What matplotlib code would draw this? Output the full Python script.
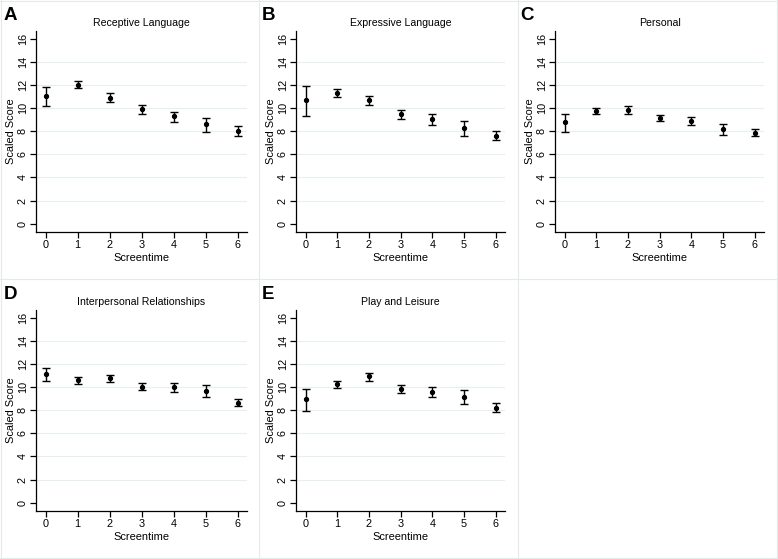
import numpy as np
import matplotlib
matplotlib.use("Agg")
import matplotlib.pyplot as plt
from matplotlib.lines import Line2D

plt.rcParams['font.family'] = ['Liberation Sans', 'DejaVu Sans']

screentime = [0, 1, 2, 3, 4, 5, 6]

titles = ["Receptive Language", "Expressive Language", "Personal",
          "Interpersonal Relationships", "Play and Leisure"]
letters = ["A", "B", "C", "D", "E"]

# means, lower CI, upper CI
receptive_mean = [11.04, 12.0, 10.9, 9.9, 9.28, 8.59, 8.04]
receptive_lo = [10.15, 11.7, 10.55, 9.48, 8.82, 7.95, 7.58]
receptive_hi = [11.8, 12.3, 11.27, 10.26, 9.68, 9.16, 8.47]

expressive_mean = [10.66, 11.3, 10.72, 9.45, 9.02, 8.27, 7.61]
expressive_lo = [9.31, 10.95, 10.26, 9.02, 8.56, 7.61, 7.2]
expressive_hi = [11.93, 11.61, 11.07, 9.8, 9.45, 8.9, 7.98]

personal_mean = [8.76, 9.74, 9.86, 9.16, 8.9, 8.18, 7.87]
personal_lo = [7.95, 9.45, 9.51, 8.88, 8.53, 7.64, 7.55]
personal_hi = [9.48, 10.03, 10.14, 9.42, 9.25, 8.62, 8.16]

interpersonal_mean = [11.1, 10.59, 10.79, 10.04, 10.01, 9.67, 8.63]
interpersonal_lo = [10.53, 10.3, 10.45, 9.76, 9.58, 9.12, 8.35]
interpersonal_hi = [11.65, 10.88, 11.08, 10.36, 10.36, 10.16, 8.95]

play_mean = [8.95, 10.27, 10.91, 9.87, 9.58, 9.15, 8.2]
play_lo = [7.97, 9.93, 10.56, 9.5, 9.18, 8.52, 7.88]
play_hi = [9.87, 10.56, 11.22, 10.19, 9.96, 9.73, 8.58]

means = [receptive_mean, expressive_mean, personal_mean, interpersonal_mean, play_mean]
lows = [receptive_lo, expressive_lo, personal_lo, interpersonal_lo, play_lo]
highs = [receptive_hi, expressive_hi, personal_hi, interpersonal_hi, play_hi]

W, H = 778, 559
fig = plt.figure(figsize=(W / 100, H / 100), dpi=100)

# axes boxes in pixels: left, right, top, bottom
boxes = [(36, 247, 31, 232), (296, 505, 31, 232), (555, 764, 31, 232),
         (36, 247, 310, 511), (296, 505, 310, 511)]
# panel origins for the letters
origins = [(4, 7), (262, 7), (520, 7), (4, 286), (262, 286)]

border = '#e3ebea'
for x in [1, 259, 518, 777]:
    fig.add_artist(Line2D([x / W, x / W], [0, 1], color=border, lw=0.8))
for y in [1, 279, 558]:
    fig.add_artist(Line2D([0, 1], [1 - y / H, 1 - y / H], color=border, lw=0.8))

for i in range(5):
    l, r, t, b = boxes[i]
    ax = fig.add_axes([l / W, 1 - b / H, (r - l) / W, (b - t) / H])
    m = np.array(means[i])
    lo = np.array(lows[i])
    hi = np.array(highs[i])
    ax.errorbar(screentime, m, yerr=[m - lo, hi - m], fmt='o', color='black',
                ms=2.8, elinewidth=1, capsize=3, capthick=1)
    ax.set_xlim(-0.3, 6.29)
    ax.set_ylim(-0.72, 16.66)
    ax.set_yticks(range(0, 17, 2))
    ax.set_xticks(screentime)
    for g in range(2, 16, 2):
        ax.axhline(g, color='#e6eef0', lw=0.8, zorder=0)
    ax.spines['top'].set_visible(False)
    ax.spines['right'].set_visible(False)
    ax.spines['left'].set_linewidth(0.9)
    ax.spines['bottom'].set_linewidth(0.9)
    ax.tick_params(axis='both', length=4.5, width=0.9, labelsize=7.8, pad=1.5)
    for lab in ax.get_yticklabels():
        lab.set_rotation(90)
        lab.set_va('center')
    ax.set_xlabel("Screentime", fontsize=7.9, labelpad=2)
    ax.set_ylabel("Scaled Score", fontsize=7.9, labelpad=1.5)
    ax.set_title(titles[i], fontsize=7.6, pad=3.5)
    ox, oy = origins[i]
    fig.text(ox / W, 1 - oy / H, letters[i], fontsize=13.5, fontweight='bold',
             ha='left', va='top')

fig.savefig("out.png", dpi=100)
